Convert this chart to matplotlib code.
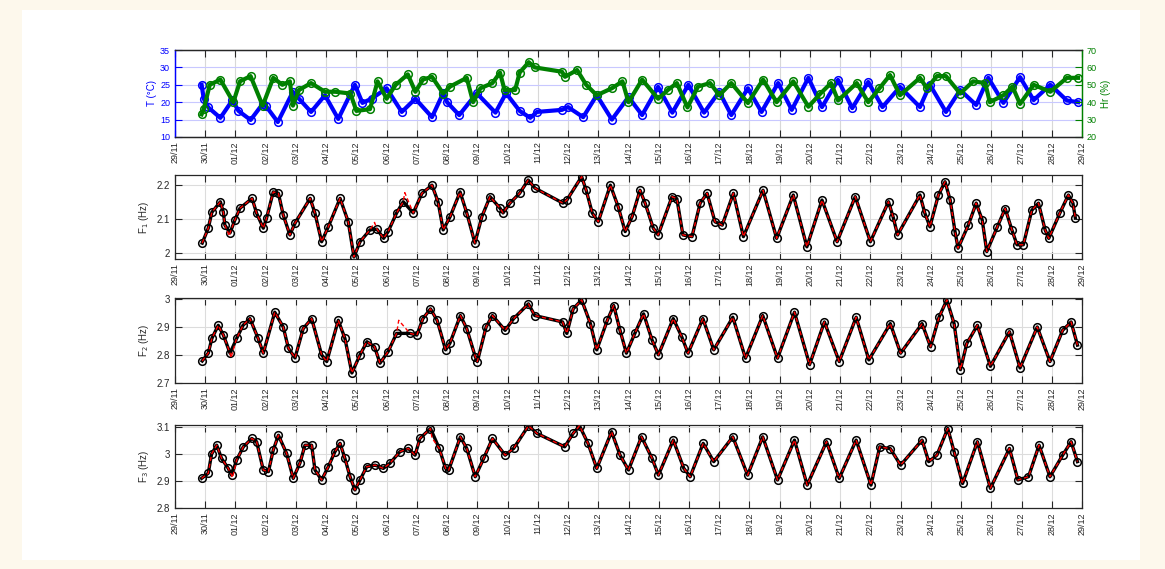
import matplotlib
matplotlib.use("Agg")
import matplotlib.pyplot as plt
from matplotlib.patches import Rectangle

plt.rcParams['font.family'] = ['Liberation Sans', 'DejaVu Sans']

# ---------------- data (days since 29/11 00:00) ----------------
date_labels = ['29/11', '30/11', '01/12', '02/12', '03/12', '04/12', '05/12', '06/12',
               '07/12', '08/12', '09/12', '10/12', '11/12', '12/12', '13/12', '14/12',
               '15/12', '16/12', '17/12', '18/12', '19/12', '20/12', '21/12', '22/12',
               '23/12', '24/12', '25/12', '26/12', '27/12', '28/12', '29/12']

t_days = [0.88, 0.95, 1.1, 1.5, 1.9, 2.1, 2.5, 2.9, 3.0, 3.4, 3.9, 4.1, 4.5, 4.96, 5.4,
          5.95, 6.2, 6.5, 7.0, 7.5, 7.95, 8.5, 8.87, 9.0, 9.4, 9.98, 10.6, 10.95, 11.4,
          11.75, 11.97, 12.8, 13.0, 13.5, 13.95, 14.45, 15.0, 15.45, 15.98, 16.45, 16.98,
          17.5, 18.0, 18.4, 18.95, 19.4, 19.95, 20.4, 20.95, 21.4, 21.93, 22.4, 22.93,
          23.4, 23.98, 24.64, 24.97, 25.5, 25.97, 26.5, 26.9, 27.4, 27.95, 28.4, 28.95,
          29.5, 29.87]
t_vals = [25.0, 21.0, 18.5, 15.5, 20.6, 17.5, 14.9, 19.5, 19.0, 14.3, 23.0, 21.0, 17.2,
          22.0, 15.2, 25.0, 19.8, 21.0, 24.0, 17.2, 21.0, 15.7, 22.6, 20.0, 16.3, 22.6,
          17.0, 22.6, 17.5, 15.5, 17.2, 17.8, 18.6, 15.7, 22.0, 15.0, 21.5, 16.3, 24.4,
          17.0, 25.0, 17.0, 23.0, 16.3, 24.0, 17.2, 25.5, 17.8, 27.0, 18.6, 26.4, 18.3,
          25.8, 18.6, 24.4, 18.6, 25.0, 17.2, 23.5, 19.2, 27.0, 19.8, 27.2, 20.6, 25.0,
          20.5, 20.0]

hr_days = [0.88, 0.95, 1.15, 1.5, 1.93, 2.15, 2.5, 2.9, 3.25, 3.55, 3.8, 3.9, 4.1, 4.5,
           4.96, 5.3, 5.8, 6.0, 6.45, 6.7, 7.0, 7.3, 7.7, 7.95, 8.2, 8.5, 8.87, 9.1, 9.65,
           9.86, 10.1, 10.5, 10.75, 10.9, 11.25, 11.4, 11.7, 11.9, 12.8, 12.9, 13.3, 13.6,
           13.95, 14.45, 14.8, 15.0, 15.45, 15.98, 16.3, 16.6, 16.95, 17.3, 17.7, 18.0,
           18.4, 18.95, 19.45, 19.9, 20.45, 20.95, 21.35, 21.7, 21.93, 22.55, 22.93, 23.3,
           23.65, 23.98, 24.64, 24.87, 25.2, 25.5, 25.97, 26.4, 26.8, 26.95, 27.4, 27.7,
           27.95, 28.4, 28.95, 29.5, 29.87]
hr_vals = [33, 36, 50, 53, 40, 52, 55, 38, 54, 50, 52, 38, 47, 51, 46, 46, 45, 35, 36,
           52, 42, 50, 56, 46, 53, 54.6, 45, 49, 54, 40, 48, 51, 57, 47, 47, 57, 63, 60,
           57.5, 54.6, 58.5, 50, 44, 48, 52, 40, 53, 42, 47, 51, 37, 49, 51, 44, 51, 39.5,
           53, 40, 52, 37.4, 45, 51, 41, 51, 40, 48, 55.6, 44, 54, 48, 55, 55, 45, 52, 51,
           40, 44, 49, 39, 50, 46, 54, 54]

f1_days = [0.9, 1.1, 1.22, 1.5, 1.6, 1.65, 1.82, 1.98, 2.15, 2.55, 2.7, 2.92, 3.03, 3.25,
           3.42, 3.58, 3.8, 3.97, 4.47, 4.63, 4.85, 5.07, 5.46, 5.73, 5.92, 6.12, 6.45,
           6.68, 6.9, 7.05, 7.33, 7.55, 7.88, 8.17, 8.5, 8.7, 8.87, 9.1, 9.43, 9.65, 9.92,
           10.15, 10.42, 10.75, 10.85, 11.08, 11.4, 11.68, 11.91, 12.83, 12.96, 13.45,
           13.6, 13.8, 14.0, 14.4, 14.66, 14.89, 15.12, 15.38, 15.55, 15.82, 15.98, 16.44,
           16.6, 16.8, 17.1, 17.37, 17.6, 17.86, 18.1, 18.47, 18.8, 19.45, 19.9, 20.45,
           20.9, 21.4, 21.9, 22.5, 23.0, 23.6, 23.75, 23.9, 24.64, 24.8, 24.97, 25.25,
           25.47, 25.64, 25.8, 25.9, 26.24, 26.5, 26.7, 26.85, 27.2, 27.46, 27.68, 27.85,
           28.06, 28.34, 28.56, 28.78, 28.9, 29.27, 29.55, 29.7, 29.78]
f1_vals = [2.029, 2.073, 2.12, 2.151, 2.12, 2.082, 2.059, 2.097, 2.132, 2.161, 2.117,
           2.073, 2.103, 2.18, 2.176, 2.112, 2.053, 2.088, 2.161, 2.117, 2.033, 2.077,
           2.161, 2.092, 1.988, 2.033, 2.068, 2.07, 2.043, 2.063, 2.118, 2.151, 2.118,
           2.176, 2.2, 2.151, 2.068, 2.107, 2.18, 2.118, 2.029, 2.107, 2.166, 2.132, 2.118,
           2.147, 2.176, 2.215, 2.191, 2.147, 2.156, 2.225, 2.185, 2.118, 2.092, 2.2,
           2.136, 2.063, 2.107, 2.185, 2.147, 2.073, 2.053, 2.166, 2.16, 2.053, 2.048,
           2.147, 2.176, 2.092, 2.082, 2.176, 2.048, 2.185, 2.043, 2.171, 2.018, 2.156,
           2.033, 2.166, 2.033, 2.151, 2.107, 2.053, 2.171, 2.118, 2.077, 2.171, 2.21,
           2.156, 2.063, 2.014, 2.082, 2.147, 2.097, 2.004, 2.077, 2.131, 2.068, 2.024,
           2.024, 2.126, 2.147, 2.068, 2.043, 2.118, 2.171, 2.147, 2.103]
f1_red_days = [1.8, 6.6, 7.6]
f1_red_vals = [2.05, 2.09, 2.178]

f2_days = [0.9, 1.1, 1.22, 1.43, 1.6, 1.82, 2.04, 2.25, 2.48, 2.75, 2.92, 3.3, 3.58, 3.75,
           3.97, 4.24, 4.52, 4.85, 5.02, 5.4, 5.62, 5.85, 6.12, 6.35, 6.6, 6.78, 7.05,
           7.33, 7.77, 8.0, 8.2, 8.45, 8.67, 8.95, 9.09, 9.44, 9.65, 9.93, 10.0, 10.29,
           10.5, 10.92, 11.2, 11.69, 11.9, 12.82, 12.96, 13.17, 13.45, 13.74, 13.95, 14.3,
           14.51, 14.72, 14.93, 15.21, 15.5, 15.78, 15.99, 16.48, 16.76, 16.97, 17.46,
           17.82, 18.45, 18.87, 19.44, 19.93, 20.49, 20.99, 21.48, 21.97, 22.53, 22.95,
           23.66, 24.0, 24.71, 24.99, 25.27, 25.53, 25.77, 25.98, 26.19, 26.54, 26.97,
           27.6, 27.95, 28.52, 28.94, 29.36, 29.64, 29.85]
f2_vals = [2.779, 2.807, 2.86, 2.907, 2.872, 2.807, 2.86, 2.907, 2.931, 2.86, 2.807,
           2.954, 2.901, 2.825, 2.79, 2.895, 2.931, 2.801, 2.777, 2.925, 2.86, 2.736,
           2.801, 2.848, 2.83, 2.771, 2.813, 2.878, 2.878, 2.872, 2.931, 2.966, 2.925,
           2.819, 2.842, 2.942, 2.895, 2.795, 2.777, 2.901, 2.942, 2.889, 2.931, 2.984,
           2.942, 2.919, 2.878, 2.966, 2.998, 2.913, 2.819, 2.925, 2.978, 2.889, 2.807,
           2.878, 2.948, 2.854, 2.801, 2.931, 2.866, 2.807, 2.931, 2.819, 2.936, 2.789,
           2.942, 2.789, 2.954, 2.766, 2.919, 2.777, 2.936, 2.783, 2.913, 2.807, 2.913,
           2.83, 2.936, 2.998, 2.913, 2.748, 2.842, 2.907, 2.76, 2.884, 2.754, 2.901,
           2.777, 2.889, 2.919, 2.836]
f2_red_days = [1.85, 6.3, 7.4]
f2_red_vals = [2.79, 2.84, 2.925]

f3_days = [0.88, 1.1, 1.21, 1.38, 1.54, 1.76, 1.87, 2.04, 2.26, 2.54, 2.7, 2.92, 3.09,
           3.25, 3.42, 3.69, 3.91, 4.13, 4.3, 4.52, 4.63, 4.85, 5.07, 5.29, 5.46, 5.62,
           5.79, 5.95, 6.12, 6.34, 6.62, 6.89, 7.11, 7.44, 7.72, 7.94, 8.1, 8.45, 8.74,
           8.95, 9.05, 9.44, 9.65, 9.93, 10.21, 10.5, 10.92, 11.2, 11.69, 11.97, 12.89,
           13.17, 13.38, 13.66, 13.95, 14.44, 14.72, 15.0, 15.43, 15.78, 15.99, 16.48,
           16.83, 17.04, 17.47, 17.82, 18.45, 18.94, 19.44, 19.93, 20.49, 20.91, 21.55,
           21.97, 22.53, 23.02, 23.31, 23.66, 24.0, 24.71, 24.93, 25.2, 25.56, 25.77,
           26.05, 26.54, 26.97, 27.6, 27.88, 28.23, 28.58, 28.94, 29.36, 29.64, 29.85]
f3_vals = [2.91, 2.929, 3.0, 3.033, 2.984, 2.947, 2.922, 2.978, 3.027, 3.058, 3.046,
           2.941, 2.935, 3.015, 3.07, 3.003, 2.91, 2.966, 3.033, 3.033, 2.941, 2.904,
           2.953, 3.009, 3.04, 2.984, 2.916, 2.867, 2.904, 2.953, 2.959, 2.947, 2.966,
           3.009, 3.021, 2.996, 3.058, 3.095, 3.021, 2.947, 2.94, 3.064, 3.021, 2.916,
           2.984, 3.058, 2.996, 3.021, 3.105, 3.077, 3.027, 3.077, 3.105, 3.04, 2.947,
           3.083, 2.996, 2.941, 3.064, 2.984, 2.922, 3.052, 2.947, 2.916, 3.04, 2.972,
           3.064, 2.922, 3.064, 2.904, 3.052, 2.885, 3.046, 2.91, 3.052, 2.885, 3.027,
           3.02, 2.959, 3.052, 2.972, 2.996, 3.095, 3.009, 2.891, 3.046, 2.873, 3.021,
           2.904, 2.916, 3.033, 2.916, 2.996, 3.046, 2.972]
f3_red_days = [1.9, 8.5]
f3_red_vals = [2.912, 3.06]


def merged(days, vals, extra_d, extra_v):
    pts = sorted(list(zip(days, vals)) + list(zip(extra_d, extra_v)))
    return [p[0] for p in pts], [p[1] for p in pts]


# ---------------- figure ----------------
W, H = 1165, 569
fig = plt.figure(figsize=(W / 100, H / 100), dpi=100)
fig.patch.set_facecolor('#fdf8ec')
fig.patches.append(Rectangle((22 / W, 1 - 560 / H), (1140 - 22) / W, (560 - 10) / H,
                             transform=fig.transFigure, facecolor='white',
                             edgecolor='none', zorder=-10))

left = 175 / W
width = (1082 - 175) / W


def ax_at(top_px, bot_px):
    return fig.add_axes([left, 1 - bot_px / H, width, (bot_px - top_px) / H])


dark = '#262626'
blue = '#0000ff'
green = '#008000'
xt = list(range(len(date_labels)))


def style_x(ax):
    ax.set_xlim(0, 30)
    ax.set_xticks(xt)
    ax.set_xticklabels(date_labels, rotation=90, fontsize=6.5, color=dark)
    ax.tick_params(axis='x', direction='in', length=5, width=0.8, top=True,
                   color=dark, pad=3)


# ---- top panel ----
ax1 = ax_at(50, 137)
ax1r = ax1.twinx()
ax1r.set_zorder(ax1.get_zorder() + 1)
ax1r.patch.set_visible(False)
ax1.plot(t_days, t_vals, '-', color=blue, lw=3.0, zorder=2)
ax1.plot(t_days, t_vals, 'o', color=blue, mfc='none', ms=5.5, mew=1.1, zorder=3)
ax1r.plot(hr_days, hr_vals, '-', color=green, lw=3.0, zorder=2)
ax1r.plot(hr_days, hr_vals, 'o', color=green, mfc='none', ms=5.5, mew=1.1, zorder=3)
ax1.set_ylim(10, 35)
ax1.set_yticks([10, 15, 20, 25, 30, 35])
ax1r.set_ylim(20, 70)
ax1r.set_yticks([20, 30, 40, 50, 60, 70])
style_x(ax1)
ax1r.set_xlim(0, 30)
ax1r.tick_params(axis='x', top=False, bottom=False, labelbottom=False)
ax1.tick_params(axis='y', direction='in', length=5, colors=blue, labelsize=6.5)
ax1r.tick_params(axis='y', direction='in', length=5, colors=green, labelsize=6.5)
ax1.set_ylabel('T (°C)', color=blue, fontsize=7, labelpad=2)
ax1r.set_ylabel('Hr (%)', color=green, fontsize=7, rotation=90, labelpad=3)
for ax in (ax1, ax1r):
    ax.spines['left'].set_color(blue)
    ax.spines['right'].set_color(green)
    ax.spines['top'].set_color(dark)
    ax.spines['bottom'].set_color(dark)
    for s in ax.spines.values():
        s.set_linewidth(0.9)
ax1.xaxis.grid(True, color='#d8d8d8', lw=0.8)
ax1.yaxis.grid(True, color='#c8c8ff', lw=0.8)
ax1.set_axisbelow(True)


# ---- frequency panels ----
def fpanel(top, bot, days, vals, rd, rv, ylim, yticks, ylabels, label):
    ax = ax_at(top, bot)
    ax.plot(days, vals, '-', color='black', lw=2.4, zorder=2)
    ax.plot(days, vals, 'o', color='black', mfc='none', ms=5.5, mew=1.1, zorder=3)
    rdays, rvals = merged(days, vals, rd, rv)
    ax.plot(rdays, rvals, '--', color='red', lw=1.0, dashes=(3, 2), zorder=4)
    ax.set_ylim(*ylim)
    ax.set_yticks(yticks)
    ax.set_yticklabels(ylabels)
    style_x(ax)
    ax.tick_params(axis='y', direction='in', length=5, width=0.8, right=True,
                   color=dark, labelcolor=dark, labelsize=7)
    ax.set_ylabel(label, fontsize=7, color=dark, labelpad=4)
    ax.grid(True, color='#dcdcdc', lw=0.8)
    ax.set_axisbelow(True)
    for s in ax.spines.values():
        s.set_color(dark)
        s.set_linewidth(0.9)
    return ax


fpanel(175, 259, f1_days, f1_vals, f1_red_days, f1_red_vals, (1.982, 2.23),
       [2.0, 2.1, 2.2], ['2', '2.1', '2.2'], r'F$_1$ (Hz)')
fpanel(298, 383, f2_days, f2_vals, f2_red_days, f2_red_vals, (2.7, 3.005),
       [2.7, 2.8, 2.9, 3.0], ['2.7', '2.8', '2.9', '3'], r'F$_2$ (Hz)')
fpanel(425, 508, f3_days, f3_vals, f3_red_days, f3_red_vals, (2.8, 3.108),
       [2.8, 2.9, 3.0, 3.1], ['2.8', '2.9', '3', '3.1'], r'F$_3$ (Hz)')

fig.savefig('out.png', dpi=100, facecolor=fig.get_facecolor())
